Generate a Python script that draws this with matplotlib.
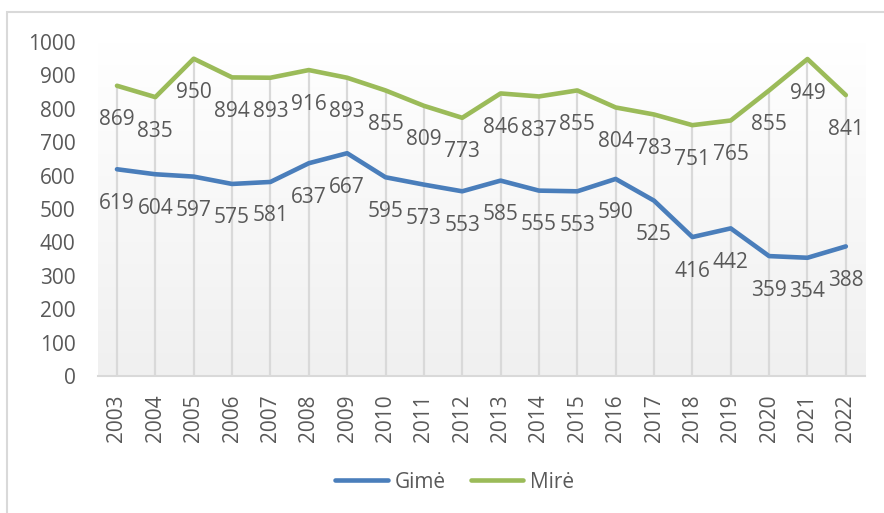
import numpy as np
import matplotlib
matplotlib.use("Agg")
import matplotlib.pyplot as plt
from matplotlib.patches import Rectangle
from matplotlib.colors import LinearSegmentedColormap

years = list(range(2003, 2023))
gime = [619, 604, 597, 575, 581, 637, 667, 595, 573, 553, 585, 555, 553, 590, 525, 416, 442, 359, 354, 388]
mire = [869, 835, 950, 894, 893, 916, 893, 855, 809, 773, 846, 837, 855, 804, 783, 751, 765, 855, 949, 841]
series_names = ["Gimė", "Mirė"]
yticks = list(range(0, 1001, 100))

plt.rcParams['font.family'] = ['Open Sans', 'DejaVu Sans']
TXT = '#595959'
BLUE = '#4a7ebb'
GREEN = '#9bbb59'

fig = plt.figure(figsize=(8.84, 5.13), dpi=100)
W, H = 884, 513
ax = fig.add_axes([97.8 / W, 1 - 376 / H, (865 - 97.8) / W, (376 - 42) / H])
ax.set_facecolor('none')

# outer chart border
fig.patches.append(Rectangle((7 / W, -0.2), 2.0, 1.2 - 12 / H + 0.0, transform=fig.transFigure,
                             fill=False, edgecolor='#d9d9d9', linewidth=1.5, zorder=0))

# gradient background of plot area
cmap = LinearSegmentedColormap.from_list('g', ['#f0f0f0', '#ffffff'])
grad = np.linspace(0, 1, 256).reshape(-1, 1)
ax.imshow(grad, extent=[0, 1, 0, 1], transform=ax.transAxes, aspect='auto',
          cmap=cmap, origin='lower', zorder=0)

x = np.array(years)
top = np.maximum(gime, mire)
ax.vlines(x, 0, top, colors='#d9d9d9', linewidth=1.6, zorder=1)

ax.plot(x, gime, color=BLUE, lw=3.3, solid_joinstyle='round', solid_capstyle='round',
        label=series_names[0], zorder=3)
ax.plot(x, mire, color=GREEN, lw=3.3, solid_joinstyle='round', solid_capstyle='round',
        label=series_names[1], zorder=3)

for xi, v in zip(x, gime):
    ax.annotate(str(v), (xi, v), xytext=(0, -24.5), textcoords='offset points',
                ha='center', va='center', fontsize=15, color=TXT, zorder=4)
for xi, v in zip(x, mire):
    ax.annotate(str(v), (xi, v), xytext=(0, -24.5), textcoords='offset points',
                ha='center', va='center', fontsize=15, color=TXT, zorder=4)

ax.set_xlim(2002.5, 2022.5)
ax.set_ylim(0, 1000)
ax.set_yticks(yticks)
ax.set_yticklabels([str(t) for t in yticks])
ax.set_xticks(x)
ax.set_xticklabels([str(y) for y in years], rotation=90)
ax.tick_params(axis='y', length=0, pad=16, labelsize=15, labelcolor=TXT)
ax.tick_params(axis='x', length=0, pad=13, labelsize=15, labelcolor=TXT)
for s in ['top', 'right', 'left']:
    ax.spines[s].set_visible(False)
ax.spines['bottom'].set_color('#d9d9d9')
ax.spines['bottom'].set_linewidth(1.5)
ax.spines['bottom'].set_zorder(2)

leg = fig.legend(loc='center', bbox_to_anchor=(455 / W, 1 - 482 / H), ncol=2, frameon=False,
                 fontsize=15, handlelength=2.5, handletextpad=0.35, columnspacing=1.2,
                 labelcolor=TXT)

fig.savefig('out.png', dpi=100)
